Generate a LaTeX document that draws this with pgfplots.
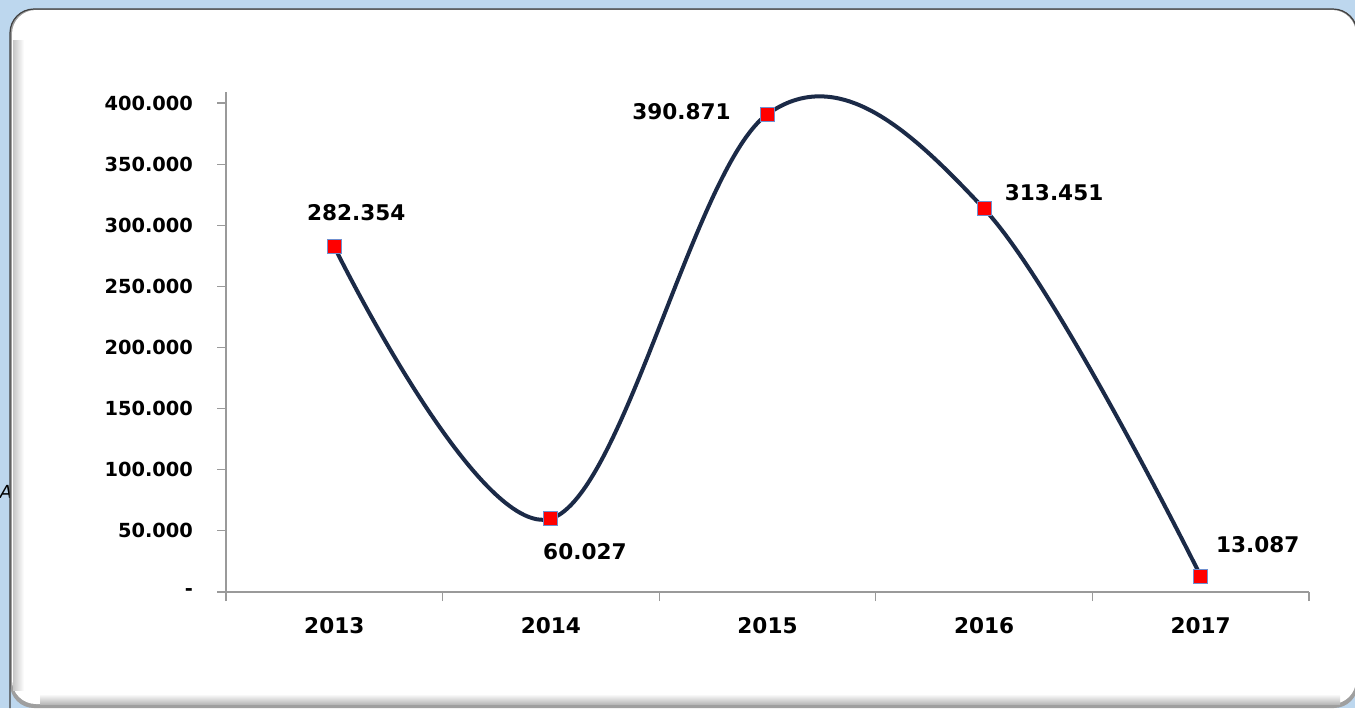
\documentclass[border=0pt]{standalone}
\usepackage{pgfplots}
\pgfplotsset{compat=1.18}
\usepackage{fontspec}
\setmainfont{DejaVu Sans}
\definecolor{bgblue}{HTML}{BDD7EE}
\definecolor{navy}{HTML}{1B2A47}
\definecolor{mkedge}{HTML}{6F8FCF}
\definecolor{axgray}{HTML}{9A9A9A}
\newcommand\lbl{\fontsize{9.7}{11}\selectfont\bfseries}
\newcommand\biglbl{\fontsize{10.8}{12}\selectfont\bfseries}

\begin{document}
\begin{tikzpicture}
% background and card, in reference pixels
\begin{scope}[x=0.5pt,y=-0.5pt]
\useasboundingbox (0,0) rectangle (1355,708);
\fill[bgblue] (0,0) rectangle (1355,708);
\node[font=\itshape\fontsize{9}{10}\selectfont] at (6,492) {A};
\fill[gray!75, rounded corners=12pt] (10,9) rectangle (1358,708);
\fill[white, rounded corners=12pt] (12,10) rectangle (1356,704);
\shade[left color=gray!45, right color=white] (13,40) rectangle (24,690);
\shade[top color=white, bottom color=gray!55] (40,694) rectangle (1340,704);
\draw[black!75, line width=0.6pt, rounded corners=12pt] (1357,60) -- (1357,9) -- (10,9) -- (10,708);
\end{scope}

\begin{axis}[
  at={(113pt,-296pt)}, anchor=south west,
  scale only axis,
  width=541.5pt, height=250pt,
  xmin=-0.5, xmax=4.5,
  ymin=0, ymax=409000,
  axis x line=bottom, axis y line=left,
  axis line style={-, draw=axgray, line width=0.6pt},
  xtick={-0.5,0.5,1.5,2.5,3.5,4.5},
  xticklabels={},
  extra x ticks={0,1,2,3,4},
  extra x tick labels={2013,2014,2015,2016,2017},
  extra x tick style={major tick length=0pt, xticklabel style={yshift=-9pt, font=\biglbl}},
  major tick length=4.5pt,
  tick align=outside,
  tick style={axgray, line width=0.6pt},
  scaled y ticks=false,
  ytick={0,50000,100000,150000,200000,250000,300000,350000,400000},
  yticklabels={{-\hspace{9pt}},50.000,100.000,150.000,200.000,250.000,300.000,350.000,400.000},
  ticklabel style={font=\lbl, text=black},
  yticklabel style={xshift=-8.5pt},
  /pgf/number format/assume math mode=true,
  clip=false,
]
\addplot[navy, line width=2pt, smooth, tension=0.6,
  mark=square*, mark size=3.5pt,
  mark options={fill=red, draw=mkedge, line width=0.5pt}]
  coordinates {(0,282354) (1,60027) (2,390871) (3,313451) (4,13087)};
\node[font=\biglbl] at (axis cs:0,282354) [xshift=11pt, yshift=17pt] {282.354};
\node[font=\biglbl] at (axis cs:1,60027) [xshift=17pt, yshift=-16.5pt] {60.027};
\node[font=\biglbl] at (axis cs:2,390871) [xshift=-43pt, yshift=1.5pt] {390.871};
\node[font=\biglbl] at (axis cs:3,313451) [xshift=35pt, yshift=8pt] {313.451};
\node[font=\biglbl] at (axis cs:4,13087) [xshift=28.5pt, yshift=15.5pt] {13.087};
\end{axis}
\end{tikzpicture}
\end{document}
